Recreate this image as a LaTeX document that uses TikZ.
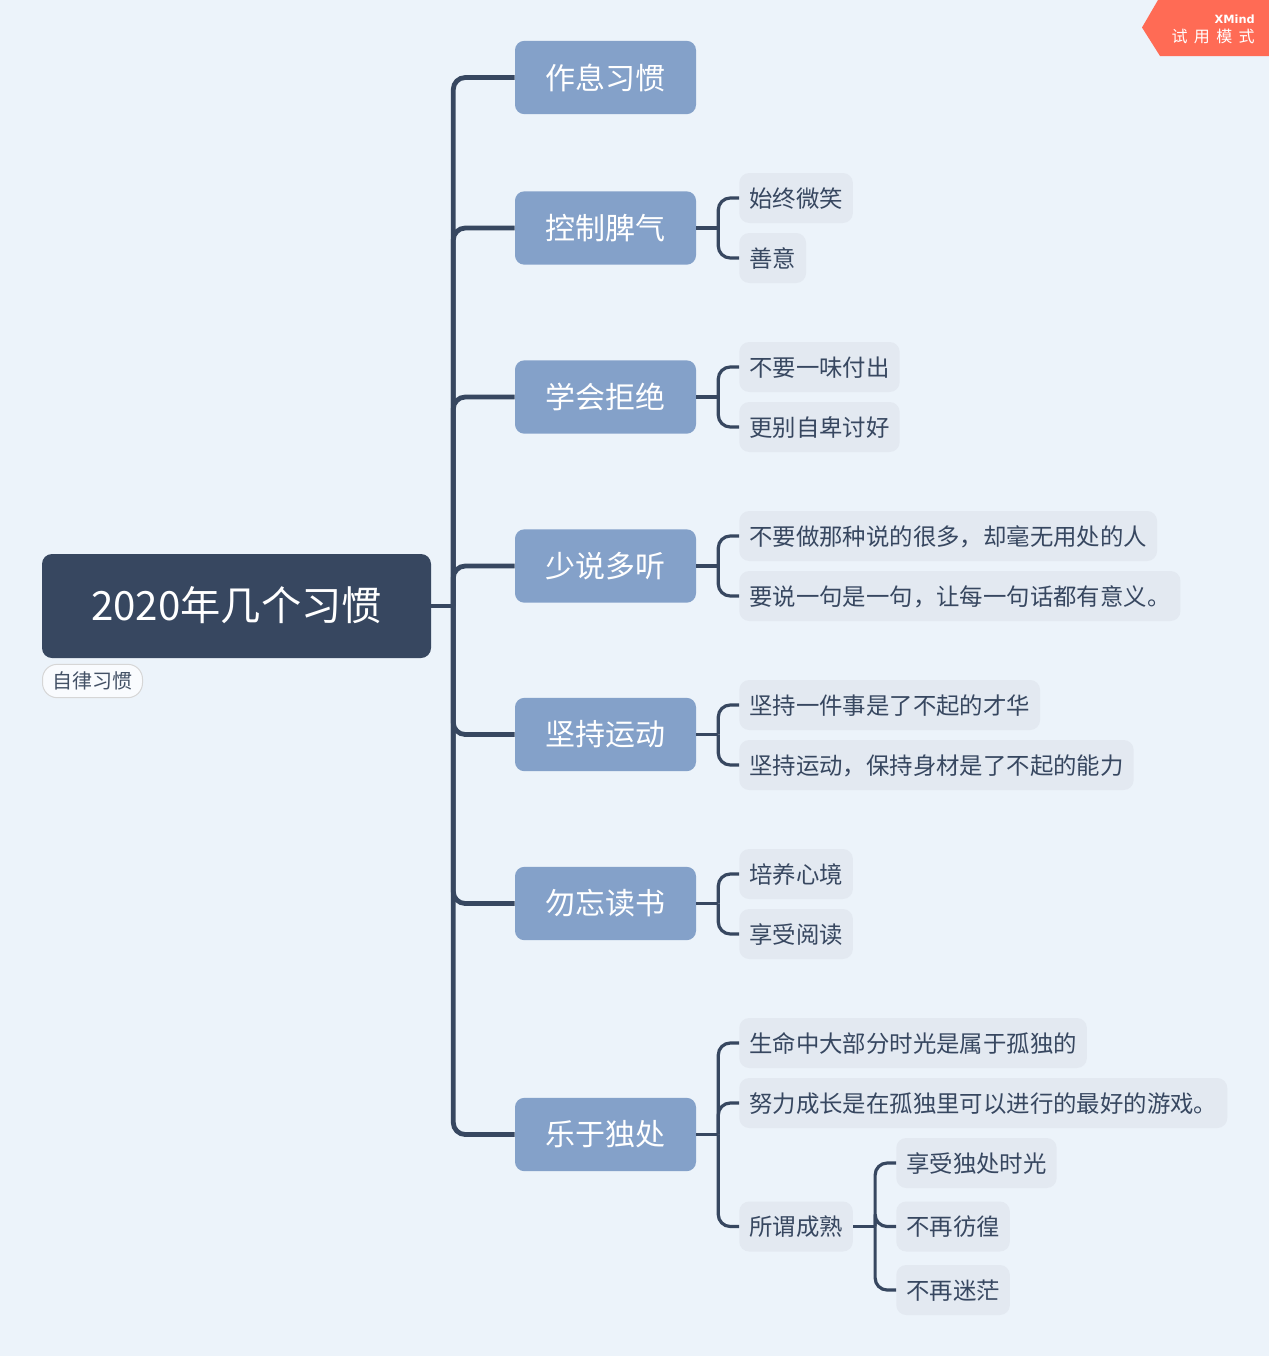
\documentclass[tikz,border=0pt]{standalone}
\usepackage{fontspec}
\setmainfont{Noto Sans CJK SC}
\newfontfamily\badgefont{DejaVu Sans}
\definecolor{pagebg}{HTML}{ECF3FA}
\definecolor{rootblue}{HTML}{374760}
\definecolor{topicblue}{HTML}{84A1C9}
\definecolor{subgray}{HTML}{E3E9F1}
\definecolor{badgered}{HTML}{FF6B55}
\tikzset{
    rootbox/.style={draw=none,fill=rootblue,text=white,rounded corners=7.5pt,minimum width=291.75pt,minimum height=78pt,text height=27pt,text depth=5.5pt,font=\fontsize{30.2pt}{33pt}\selectfont},
    tagbox/.style={anchor=west,draw=black!16,fill=white!70!pagebg,text=rootblue!85!gray,line width=0.75pt,rounded corners=11pt,minimum width=75pt,minimum height=25pt,inner sep=0pt,font=\fontsize{15pt}{17pt}\selectfont},
    topicbox/.style={fill=topicblue,text=white,rounded corners=7pt,minimum width=135.75pt,minimum height=55pt,font=\fontsize{22.5pt}{25pt}\selectfont},
    subbox/.style={anchor=west,fill=subgray,text=rootblue,rounded corners=7.5pt,inner xsep=7.5pt,inner ysep=0pt,minimum height=37.5pt,text height=16.5pt,text depth=2.5pt,font=\fontsize{17.55pt}{20pt}\selectfont},
    trunkline/.style={draw=rootblue,line width=3.6pt,rounded corners=9pt},
    subline/.style={draw=rootblue,line width=2.4pt,rounded corners=9pt}
}
\begin{document}
\begin{tikzpicture}[x=0.75pt,y=-0.75pt]
        \fill[pagebg] (0,0) rectangle (1269,1356);
        \useasboundingbox (0,0) rectangle (1269,1356);
        \node[rootbox] (root) at (236.5,606) {2020年几个习惯};
        \node[tagbox] (tag) at (42,681) {自律习惯};
        \path (root.east) ++(22,0) coordinate (root-fork);
        \draw[trunkline] (root.east) -- (root-fork);
        \foreach \name/\ypos/\txt in {sleep/77.5/作息习惯,temper/228/控制脾气,refuse/397/学会拒绝,listen/566/少说多听,sport/734.5/坚持运动,read/903.5/勿忘读书,alone/1134.5/乐于独处}{
            \node[topicbox] (\name) at (605.5,\ypos) {\txt};
            \path (\name.east) ++(22,0) coordinate (\name-fork);
            \draw[trunkline] (root-fork) |- (\name.west);
        }
        \foreach \name/\parent/\xpos/\ypos/\txt in {smile/temper/739/198/始终微笑,kind/temper/739/258/善意,nopay/refuse/739/367/不要一味付出,noplease/refuse/739/427/更别自卑讨好,nobrag/listen/739/536/不要做那种说的很多，却毫无用处的人,mean/listen/739/596/要说一句是一句，让每一句话都有意义。,persist/sport/739/705/坚持一件事是了不起的才华,fit/sport/739/765/坚持运动，保持身材是了不起的能力,mind/read/739/874/培养心境,enjoy/read/739/934/享受阅读,lonely/alone/739/1043/生命中大部分时光是属于孤独的,grow/alone/739/1103/努力成长是在孤独里可以进行的最好的游戏。,mature/alone/739/1226.5/所谓成熟,solo/mature/896/1163/享受独处时光,noworry/mature/896/1226.5/不再彷徨,nolost/mature/896/1290/不再迷茫}{
            \node[subbox] (\name) at (\xpos,\ypos) {\txt};
            \path (\name.east) ++(22,0) coordinate (\name-fork);
            \draw[subline] (\parent.east) -- (\parent-fork);
            \draw[subline] (\parent-fork) |- (\name.west);
        }
        \fill[badgered] (1269,0) -- (1158,0) -- (1142,27.5) -- (1160,56) -- (1269,56) -- cycle;
        \node[anchor=east,inner sep=0pt,text=white,font=\badgefont\bfseries\fontsize{8.5pt}{10pt}\selectfont] (badgetop) at (1255,19) {XMind};
        \node[anchor=east,inner sep=0pt,text=white,font=\fontsize{12pt}{14pt}\selectfont] (badgebottom) at (1255,36) {试\kern4.8pt 用\kern4.8pt 模\kern4.8pt 式};
    \end{tikzpicture}
\end{document}
